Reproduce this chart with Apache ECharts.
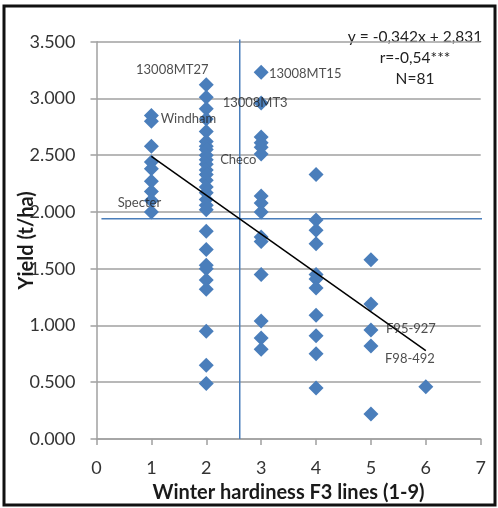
<!DOCTYPE html>
<html>
<head>
<meta charset="utf-8">
<script src="https://cdn.jsdelivr.net/npm/echarts@6/dist/echarts.min.js"></script>
<style>
html,body{margin:0;padding:0;background:#fff;}
#chart{width:498px;height:508px;}
</style>
</head>
<body>
<div id="chart"></div>
<script>
// ---- data ----
const hardinessLevels = [1, 2, 3, 4, 5, 6];
const yieldScore1 = [2.85, 2.80, 2.58, 2.44, 2.38, 2.27, 2.18, 2.10, 2.00];
const yieldScore2 = [3.12, 3.01, 2.91, 2.82, 2.71, 2.62, 2.58, 2.55, 2.50, 2.46, 2.42, 2.37, 2.33, 2.28, 2.22, 2.17, 2.11, 2.06, 2.02, 1.83, 1.67, 1.53, 1.50, 1.40, 1.32, 0.95, 0.65, 0.49];
const yieldScore3 = [3.23, 2.96, 2.66, 2.61, 2.57, 2.51, 2.14, 2.08, 2.00, 1.78, 1.74, 1.45, 1.04, 0.89, 0.79];
const yieldScore4 = [2.33, 1.93, 1.84, 1.72, 1.45, 1.41, 1.33, 1.09, 0.91, 0.75, 0.45];
const yieldScore5 = [1.58, 1.19, 0.96, 0.82, 0.22];
const yieldScore6 = [0.46];
const labelNames = ['13008MT27', 'Windham', '13008MT3', '13008MT15', 'Checo', 'Specter', 'F95-927', 'F98-492'];
const labelX = [2, 1, 3, 3, 2, 1, 5, 5];
const labelY = [3.12, 2.80, 2.96, 3.23, 2.46, 2.10, 0.96, 0.82];
const trendX = [1, 6];
const trendY = [2.489, 0.779];
const meanHardiness = 2.61;
const meanYield = 1.94;
const statsText = ['y = -0,342x + 2,831', 'r=-0,54***', 'N=81'];
const xTicks = [0, 1, 2, 3, 4, 5, 6, 7];
const yTicks = [0, 0.5, 1, 1.5, 2, 2.5, 3, 3.5];
const xTitle = 'Winter hardiness F3 lines (1-9)';
const yTitle = 'Yield (t/ha)';

// ---- styles ----
const FONT = 'Lato, "Open Sans", sans-serif';
const BLUE = '#4a7ebb';
const GRID = '#a0a0a0';
const labelOffsets = {
  '13008MT27': [-34, -15],
  'Windham': [37, -2],
  '13008MT3': [-6, 0],
  '13008MT15': [44, 1],
  'Checo': [32, 0],
  'Specter': [-12, 2],
  'F95-927': [40, -1],
  'F98-492': [39, 13]
};

const columns = [yieldScore1, yieldScore2, yieldScore3, yieldScore4, yieldScore5, yieldScore6];
const points = [];
columns.forEach((col, i) => col.forEach(v => points.push([hardinessLevels[i], v])));

const labeled = labelNames.map((n, i) => ({
  value: [labelX[i], labelY[i]],
  name: n,
  label: {
    show: true, formatter: n, position: 'inside', offset: labelOffsets[n],
    color: '#222', fontSize: 13, fontFamily: FONT
  }
}));

const chart = echarts.init(document.getElementById('chart'), null, {renderer: 'canvas'});
chart.setOption({
  animation: false,
  backgroundColor: '#fff',
  grid: {left: 96.5, right: 17.3, top: 41.7, bottom: 69, outerBoundsMode: 'none', containLabel: false},
  xAxis: {
    type: 'value', min: xTicks[0], max: xTicks[xTicks.length - 1], interval: 1,
    name: xTitle, nameLocation: 'middle', nameGap: 44, nameMoveOverlap: false,
    nameTextStyle: {fontFamily: FONT, fontSize: 20, fontWeight: 'bold', color: '#1a1a1a'},
    axisLine: {show: true, lineStyle: {color: GRID, width: 1.5}},
    axisTick: {show: true, length: 6, lineStyle: {color: GRID, width: 1.5}},
    axisLabel: {margin: 20, fontFamily: FONT, fontSize: 18, color: '#333'},
    splitLine: {show: false}
  },
  yAxis: {
    type: 'value', min: yTicks[0], max: yTicks[yTicks.length - 1], interval: 0.5,
    name: yTitle, nameLocation: 'middle', nameGap: 60, nameRotate: 90, nameMoveOverlap: false,
    nameTextStyle: {fontFamily: FONT, fontSize: 20, fontWeight: 'bold', color: '#1a1a1a'},
    axisLine: {show: true, lineStyle: {color: GRID, width: 1.5}},
    axisTick: {show: true, length: 6, lineStyle: {color: GRID, width: 1.5}},
    axisLabel: {margin: 21, fontFamily: FONT, fontSize: 18, color: '#333',
      formatter: v => v.toFixed(3)},
    splitLine: {show: true, lineStyle: {color: GRID, width: 1.5}}
  },
  series: [
    {
      type: 'line', data: [[meanHardiness, 3.52], [meanHardiness, 0]], clip: false,
      symbol: 'none', lineStyle: {color: BLUE, width: 1.5}, z: 1, silent: true
    },
    {
      type: 'line', data: [[0.09, meanYield], [7.3, meanYield]], clip: false,
      symbol: 'none', lineStyle: {color: BLUE, width: 1.5}, z: 1, silent: true
    },
    {
      type: 'scatter', data: points, symbol: 'diamond', symbolSize: 15,
      itemStyle: {color: BLUE, opacity: 1}, z: 3
    },
    {
      type: 'line', data: trendX.map((x, i) => [x, trendY[i]]), symbol: 'none',
      lineStyle: {color: '#000', width: 1.5}, z: 4
    },
    {
      type: 'scatter', data: labeled, symbol: 'diamond', symbolSize: 15,
      itemStyle: {color: 'rgba(0,0,0,0)'}, z: 5
    }
  ],
  graphic: [
    {type: 'rect', shape: {x: 4, y: 6, width: 491, height: 499},
     style: {fill: 'none', stroke: '#111', lineWidth: 3}, z: 10},
    {type: 'text', x: 415, y: 37, style: {text: statsText[0], font: '15.5px ' + FONT, fill: '#222', textAlign: 'center', textVerticalAlign: 'middle'}},
    {type: 'text', x: 415, y: 58, style: {text: statsText[1], font: '15.5px ' + FONT, fill: '#222', textAlign: 'center', textVerticalAlign: 'middle'}},
    {type: 'text', x: 415, y: 79, style: {text: statsText[2], font: '15.5px ' + FONT, fill: '#222', textAlign: 'center', textVerticalAlign: 'middle'}}
  ]
});
</script>
</body>
</html>
